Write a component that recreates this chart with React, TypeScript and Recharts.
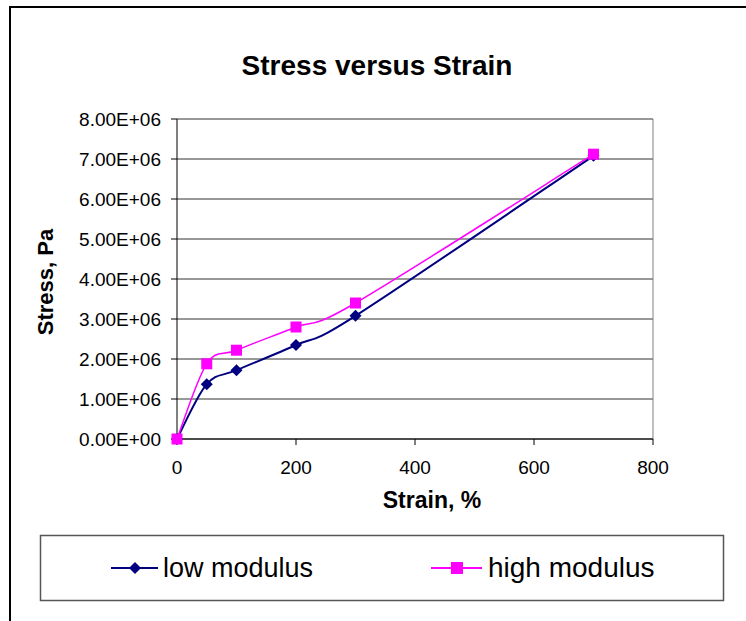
import React from 'react';
import { LineChart, Line, XAxis, YAxis, CartesianGrid, ReferenceLine } from 'recharts';

const strain = [0, 50, 100, 200, 300, 700];
const lowModulus = [0, 1.37e6, 1.72e6, 2.35e6, 3.08e6, 7.08e6];
const highModulus = [0, 1.88e6, 2.22e6, 2.8e6, 3.4e6, 7.12e6];
const xTicks = [0, 200, 400, 600, 800];
const yTicks = [0, 1e6, 2e6, 3e6, 4e6, 5e6, 6e6, 7e6, 8e6];

const data = strain.map((s, i) => ({ strain: s, low: lowModulus[i], high: highModulus[i] }));

const FONT = 'Liberation Sans, Arial, sans-serif';
const LOW = '#000080';
const HIGH = '#ff00ff';

const fmtY = (v: number) => (v === 0 ? '0.00E+00' : `${(v / 1e6).toFixed(2)}E+06`);

// Excel-like smoothed line (uniform Catmull-Rom as Bezier)
const smooth = (context: any) => {
  let pts: number[][] = [];
  return {
    areaStart() {},
    areaEnd() {},
    lineStart() { pts = []; },
    point(x: number, y: number) { pts.push([+x, +y]); },
    lineEnd() {
      if (!pts.length) return;
      context.moveTo(pts[0][0], pts[0][1]);
      for (let i = 0; i < pts.length - 1; i++) {
        const p0 = pts[i - 1] || pts[i];
        const p1 = pts[i];
        const p2 = pts[i + 1];
        const p3 = pts[i + 2] || p2;
        context.bezierCurveTo(
          p1[0] + (p2[0] - p0[0]) / 6, p1[1] + (p2[1] - p0[1]) / 6,
          p2[0] - (p3[0] - p1[0]) / 6, p2[1] - (p3[1] - p1[1]) / 6,
          p2[0], p2[1]
        );
      }
    },
  };
};

const Diamond = (props: any) => {
  const { cx, cy } = props;
  if (cx == null || cy == null) return null;
  const r = 6;
  return <polygon points={`${cx},${cy - r} ${cx + r},${cy} ${cx},${cy + r} ${cx - r},${cy}`} fill={LOW} />;
};

const Square = (props: any) => {
  const { cx, cy } = props;
  if (cx == null || cy == null) return null;
  return <rect x={cx - 5.5} y={cy - 5.5} width={11} height={11} fill={HIGH} />;
};

const App = () => {
  return (
    <div style={{ position: 'fixed', left: 0, top: 0, width: 746, height: 621, overflow: 'hidden', background: '#fff' }}>
      <div style={{ position: 'absolute', left: 9, top: 6, width: 800, height: 700, border: '2px solid #000' }} />
      <div style={{ position: 'absolute', left: 0, top: 0 }}>
        <LineChart width={746} height={621} data={data} margin={{ top: 119, right: 93, bottom: 142, left: 0 }}>
          <CartesianGrid horizontal vertical={false} stroke="#333" />
          <ReferenceLine x={800} stroke="#808080" />
          <XAxis
            type="number"
            dataKey="strain"
            domain={[0, 800]}
            ticks={xTicks}
            height={40}
            stroke="#000"
            tickSize={6}
            tickMargin={16}
            tick={{ fill: '#000', fontSize: 19, fontFamily: FONT }}
          />
          <YAxis
            domain={[0, 8e6]}
            ticks={yTicks}
            width={177}
            stroke="#000"
            tickSize={6}
            tickMargin={10}
            tickFormatter={fmtY}
            tick={{ fill: '#000', fontSize: 19, fontFamily: FONT }}
          />
          <Line type={smooth as any} dataKey="low" stroke={LOW} strokeWidth={2} dot={<Diamond />} isAnimationActive={false} />
          <Line type={smooth as any} dataKey="high" stroke={HIGH} strokeWidth={1.5} dot={<Square />} isAnimationActive={false} />
        </LineChart>
      </div>
      <svg width={746} height={621} style={{ position: 'absolute', left: 0, top: 0, pointerEvents: 'none' }} fontFamily={FONT}>
        <text x={377} y={75} textAnchor="middle" fontSize={28} fontWeight="bold">Stress versus Strain</text>
        <text x={432} y={508} textAnchor="middle" fontSize={23} fontWeight="bold">Strain, %</text>
        <text x={53} y={282} textAnchor="middle" fontSize={22} fontWeight="bold" transform="rotate(-90 53 282)">Stress, Pa</text>
        <rect x={40.5} y={535.5} width={683} height={65} fill="none" stroke="#555" strokeWidth={1.5} />
        <line x1={111} y1={568} x2={158} y2={568} stroke={LOW} strokeWidth={2} />
        <polygon points="135,562 141,568 135,574 129,568" fill={LOW} />
        <text x={163} y={577} fontSize={27}>low modulus</text>
        <line x1={431} y1={568} x2={482} y2={568} stroke={HIGH} strokeWidth={2} />
        <rect x={451} y={562} width={12} height={12} fill={HIGH} />
        <text x={488} y={577} fontSize={28}>high modulus</text>
      </svg>
    </div>
  );
};

export default App;
